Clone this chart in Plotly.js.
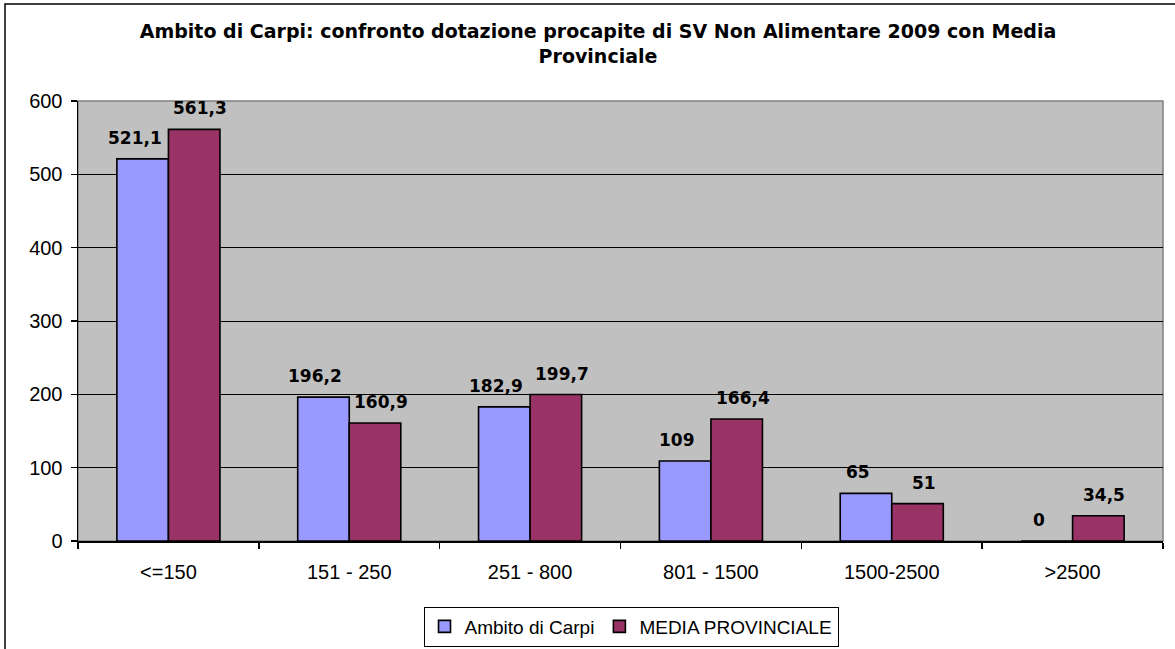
<!DOCTYPE html>
<html>
<head>
<meta charset="utf-8">
<script src="https://cdn.plot.ly/plotly-3.0.1.min.js"></script>
<style>
  html, body { margin: 0; padding: 0; background: #ffffff; }
  #chart { width: 1175px; height: 649px; }
</style>
</head>
<body>
<div id="chart"></div>
<script>
const categories = ["<=150", "151 - 250", "251 - 800", "801 - 1500", "1500-2500", ">2500"];
const ambitoCarpi = [521.1, 196.2, 182.9, 109, 65, 0];
const mediaProvinciale = [561.3, 160.9, 199.7, 166.4, 51, 34.5];
const seriesNames = ["Ambito di Carpi", "MEDIA PROVINCIALE"];
const titleText = "Ambito di Carpi: confronto dotazione procapite di SV Non Alimentare 2009 con Media<br>Provinciale";

const fmt = v => String(v).replace('.', ',');

const W = 1175, H = 649;
const m = { l: 78, r: 12, t: 101, b: 108 };
const pw = W - m.l - m.r, ph = H - m.t - m.b;
const px = x => (x - m.l) / pw;
const py = y => (H - m.b - y) / ph;
const bargap = 0.43;
const barHalf = (pw / categories.length) * (1 - bargap) / 4;

const labelFont = { family: "DejaVu Sans, Verdana, sans-serif", size: 17, color: "#000000", weight: 700 };

const traces = [
  {
    type: "bar", name: seriesNames[0], x: categories, y: ambitoCarpi,
    marker: { color: "#9999FF", line: { color: "#000000", width: 1.6 } },
    hoverinfo: "skip"
  },
  {
    type: "bar", name: seriesNames[1], x: categories, y: mediaProvinciale,
    marker: { color: "#993366", line: { color: "#000000", width: 1.6 } },
    hoverinfo: "skip"
  }
];

const annotations = [];
[[ambitoCarpi, -barHalf - 8], [mediaProvinciale, barHalf + 6]].forEach(([vals, xs]) => {
  vals.forEach((v, i) => {
    annotations.push({
      x: categories[i], y: v, xref: "x", yref: "y",
      text: fmt(v), showarrow: false,
      xanchor: "center", yanchor: "bottom",
      xshift: xs, yshift: 9,
      font: labelFont
    });
  });
});

const layout = {
  width: W, height: H,
  margin: m,
  paper_bgcolor: "#ffffff",
  plot_bgcolor: "#C0C0C0",
  barmode: "group",
  bargap: bargap,
  bargroupgap: 0,
  showlegend: true,
  title: {
    text: titleText,
    font: { family: "DejaVu Sans, Verdana, sans-serif", size: 19, color: "#000000", weight: 700 },
    x: 598 / W, xanchor: "center", xref: "container",
    y: 1 - 38 / H, yanchor: "middle", yref: "container"
  },
  xaxis: {
    type: "category",
    automargin: false,
    showline: true, linecolor: "#000000", linewidth: 1.5,
    ticks: "outside", tickson: "boundaries", ticklen: 6, tickcolor: "#000000", tickwidth: 1.5,
    tickfont: { family: "Liberation Sans, Arial, sans-serif", size: 20, color: "#000000" },
    ticklabelstandoff: 12,
    showgrid: false, zeroline: false,
    fixedrange: true
  },
  yaxis: {
    range: [0, 600], dtick: 100, tick0: 0,
    automargin: false,
    showline: true, linecolor: "#000000", linewidth: 1.5,
    ticks: "outside", ticklen: 6, tickcolor: "#000000", tickwidth: 1.5,
    tickfont: { family: "Liberation Sans, Arial, sans-serif", size: 20, color: "#000000" },
    ticklabelstandoff: 4,
    showgrid: true, gridcolor: "#000000", gridwidth: 1,
    zeroline: false,
    fixedrange: true
  },
  legend: {
    orientation: "h",
    xref: "container", yref: "container",
    x: 631 / W, xanchor: "center",
    y: 1 - 626.5 / H, yanchor: "middle",
    bgcolor: "#ffffff", bordercolor: "#000000", borderwidth: 1,
    font: { family: "Liberation Sans, Arial, sans-serif", size: 19, color: "#000000" },
    itemwidth: 30, tracegroupgap: 0
  },
  annotations: annotations,
  shapes: [
    { type: "rect", xref: "paper", yref: "paper", x0: 0, x1: 1, y0: 0, y1: 1,
      line: { color: "#808080", width: 1.5 }, layer: "below" },
    { type: "path", xref: "paper", yref: "paper",
      path: `M ${px(5)},${py(H + 20)} L ${px(5)},${py(4)} L ${px(W + 20)},${py(4)}`,
      line: { color: "#000000", width: 1.5 } }
  ]
};

Plotly.newPlot("chart", traces, layout, { displayModeBar: false, staticPlot: true });
</script>
</body>
</html>
